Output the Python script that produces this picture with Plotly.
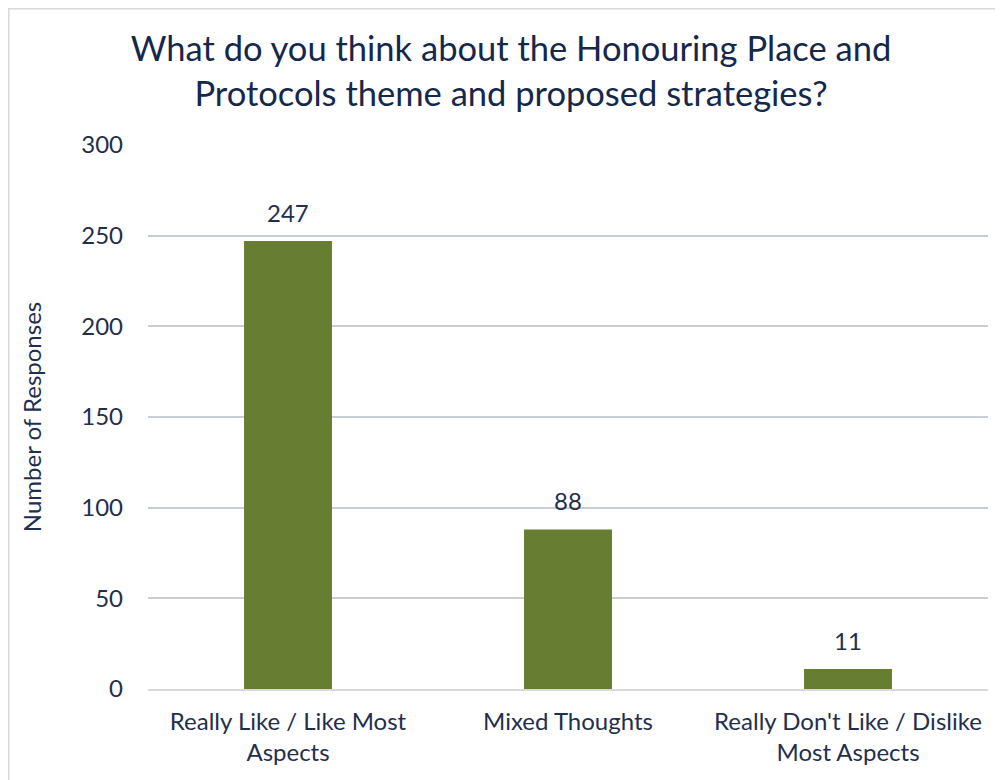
import plotly.graph_objects as go

categories = ["Really Like / Like Most<br>Aspects", "Mixed Thoughts", "Really Don't Like / Dislike<br>Most Aspects"]
responses = [247, 88, 11]
y_ticks = [0, 50, 100, 150, 200, 250, 300]

navy = "#14284B"
label_colour = "#1F2F4D"
bar_colour = "#667D32"
font_family = "Lato, 'Noto Sans', sans-serif"

# the page body adds an 8px margin, so the figure is 8px smaller than the window
W, H = 995, 772
L, R, T, B = 140, 15, 137, 91
pw, ph = W - L - R, H - T - B

fig = go.Figure()
fig.add_trace(go.Bar(
    x=categories,
    y=responses,
    marker=dict(color=bar_colour, line=dict(width=0)),
))

# value labels above the bars
for cat, val in zip(categories, responses):
    fig.add_annotation(
        x=cat, y=val, text=str(val), showarrow=False,
        yanchor="bottom", yshift=12,
        font=dict(size=24, color=label_colour, family=font_family),
    )

fig.update_layout(
    width=W,
    height=H,
    paper_bgcolor="white",
    plot_bgcolor="white",
    margin=dict(l=L, r=R, t=T, b=B),
    bargap=0.686,
    showlegend=False,
    font=dict(family=font_family, color=label_colour),
    title=dict(
        text="What do you think about the Honouring Place and<br>Protocols theme and proposed strategies?",
        x=503 / W,
        xanchor="center",
        y=1 - 53 / H,
        yanchor="top",
        font=dict(size=34.5, color=navy, family=font_family),
    ),
    xaxis=dict(
        showgrid=False,
        showline=True,
        linecolor="#D9D9D9",
        linewidth=1.5,
        tickfont=dict(size=24, color=label_colour),
        ticks="",
        ticklabelstandoff=10,
    ),
    yaxis=dict(
        range=[0, 300],
        tickvals=y_ticks,
        showgrid=True,
        gridcolor="#C9CDD4",
        gridwidth=1.5,
        zeroline=False,
        showline=False,
        ticks="",
        ticklabelstandoff=24,
        tickfont=dict(size=24, color=label_colour),
        title=dict(text="Number of Responses", font=dict(size=24, color=label_colour), standoff=32),
    ),
    shapes=[dict(
        type="rect", xref="paper", yref="paper",
        x0=(-L + 0.5) / pw, x1=(W - L + 10) / pw,
        y0=-(B + 20) / ph, y1=(ph + T - 0.5) / ph,
        line=dict(color="#D9D9D9", width=2), layer="below",
    )],
)

fig.write_html("out.html")
